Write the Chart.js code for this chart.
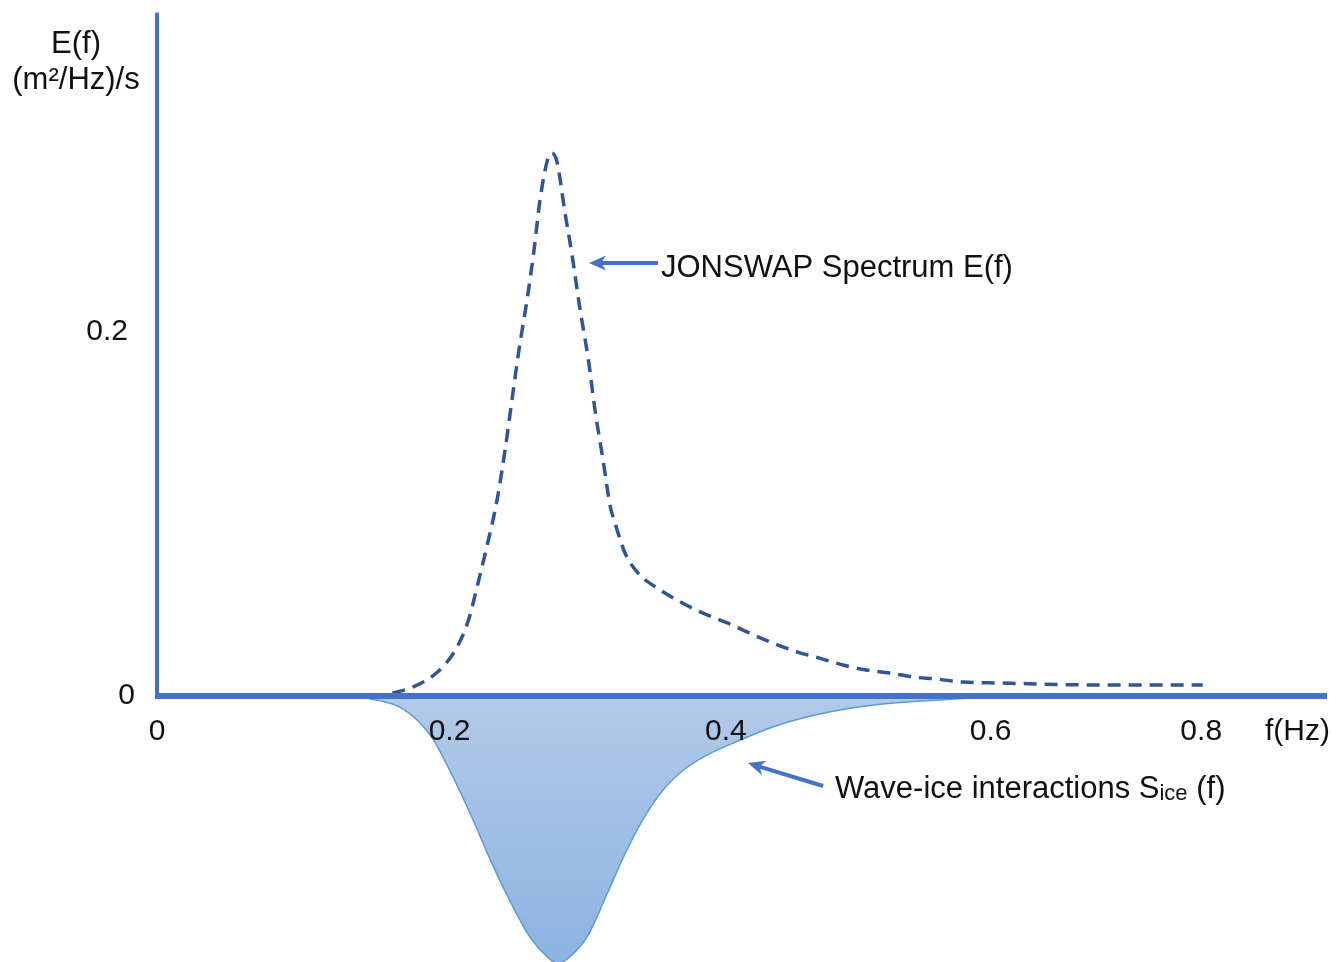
<!DOCTYPE html>
<html>
<head>
<meta charset="utf-8">
<title>JONSWAP spectrum and wave-ice interactions</title>
<script src="https://cdn.jsdelivr.net/npm/chart.js@4.4.1/dist/chart.umd.min.js"></script>
<style>
  html, body { margin: 0; padding: 0; background: #ffffff; }
  #wrap { width: 1341px; height: 962px; }
</style>
</head>
<body>
<div id="wrap"><canvas id="chart" width="1341" height="962"></canvas></div>
<script>
// JONSWAP spectrum E(f), (m^2/Hz)/s
const jonswapF = [0.161, 0.175, 0.191, 0.204, 0.213, 0.2195, 0.225, 0.2325, 0.238, 0.2427, 0.2475, 0.253, 0.2578, 0.2619, 0.2674, 0.270, 0.2735, 0.279, 0.284, 0.289, 0.295, 0.2995, 0.305, 0.310, 0.313, 0.320, 0.329, 0.344, 0.358, 0.373, 0.390, 0.405, 0.421, 0.438, 0.453, 0.469, 0.485, 0.501, 0.517, 0.533, 0.551, 0.576, 0.645, 0.715];
const jonswapE = [0.001, 0.0044, 0.0121, 0.0247, 0.0412, 0.0615, 0.0797, 0.1071, 0.1346, 0.1621, 0.1896, 0.2170, 0.2445, 0.2720, 0.2951, 0.2978, 0.2929, 0.2648, 0.2407, 0.2132, 0.1840, 0.1566, 0.1291, 0.1033, 0.0950, 0.0780, 0.0670, 0.0577, 0.0511, 0.0451, 0.0396, 0.0341, 0.0286, 0.0236, 0.0203, 0.0165, 0.0137, 0.0121, 0.0099, 0.0088, 0.0071, 0.0066, 0.0055, 0.0055];

// Wave-ice interaction source term S_ice(f)
const iceF = [0.140, 0.1436, 0.156, 0.166, 0.180, 0.189, 0.200, 0.214, 0.228, 0.241, 0.255, 0.267, 0.274, 0.282, 0.294, 0.308, 0.319, 0.332, 0.346, 0.360, 0.376, 0.399, 0.421, 0.444, 0.467, 0.490, 0.513, 0.535, 0.558, 0.581, 0.645, 0.713, 0.800];
const iceS = [0, -0.0016, -0.0038, -0.0066, -0.0154, -0.0247, -0.0412, -0.0648, -0.0907, -0.1126, -0.1330, -0.1440, -0.1475, -0.1440, -0.1330, -0.1088, -0.0890, -0.0687, -0.0522, -0.0412, -0.0330, -0.0247, -0.0176, -0.0121, -0.0082, -0.0055, -0.0038, -0.0027, -0.0016, -0.0014, -0.0008, -0.0005, -0.0003];

// Axis tick labels and where they sit along each axis
const xTickLabels = ['0', '0.2', '0.4', '0.6', '0.8'];
const xTickAt = [0, 0.2, 0.389, 0.570, 0.714];
const yTickLabels = ['0', '0.2'];
const yTickAt = [0, 0.2];

const FONT = '"Liberation Sans", Arial, Helvetica, sans-serif';
const AXIS_BLUE = '#4472C4';

function toPoints(xs, ys) {
  return xs.map((x, i) => ({ x: x, y: ys[i] }));
}

function drawArrow(ctx, x1, y1, x2, y2) {
  // tail (x1,y1) -> tip (x2,y2)
  const ang = Math.atan2(y2 - y1, x2 - x1);
  const headLen = 17, headHalf = 7.5, notch = 5;
  const bx = x2 - Math.cos(ang) * headLen;
  const by = y2 - Math.sin(ang) * headLen;
  ctx.save();
  ctx.strokeStyle = AXIS_BLUE;
  ctx.fillStyle = AXIS_BLUE;
  ctx.lineWidth = 4;
  ctx.beginPath();
  ctx.moveTo(x1, y1);
  ctx.lineTo(bx + Math.cos(ang) * notch, by + Math.sin(ang) * notch);
  ctx.stroke();
  ctx.beginPath();
  ctx.moveTo(x2, y2);
  ctx.lineTo(bx - Math.sin(ang) * headHalf, by + Math.cos(ang) * headHalf);
  ctx.lineTo(bx + Math.cos(ang) * notch, by + Math.sin(ang) * notch);
  ctx.lineTo(bx + Math.sin(ang) * headHalf, by - Math.cos(ang) * headHalf);
  ctx.closePath();
  ctx.fill();
  ctx.restore();
}

const diagramPlugin = {
  id: 'diagram',
  afterDatasetsDraw(chart) {
    const ctx = chart.ctx;
    const xs = chart.scales.x, ys = chart.scales.y;
    const x0 = xs.getPixelForValue(0);
    const y0 = ys.getPixelForValue(0);

    // axes
    ctx.save();
    ctx.strokeStyle = AXIS_BLUE;
    ctx.lineWidth = 4;
    ctx.lineCap = 'butt';
    ctx.beginPath();
    ctx.moveTo(x0, ys.getPixelForValue(0.375));
    ctx.lineTo(x0, y0 + 2);
    ctx.lineTo(xs.getPixelForValue(0.8), y0 + 2);
    ctx.stroke();
    ctx.beginPath();
    ctx.moveTo(x0 - 2, y0);
    ctx.lineTo(xs.getPixelForValue(0.8), y0);
    ctx.stroke();
    ctx.restore();

    ctx.save();
    ctx.fillStyle = '#111111';
    ctx.font = '30px ' + FONT;
    ctx.textBaseline = 'middle';

    // x tick labels
    ctx.textAlign = 'center';
    xTickAt.forEach((v, i) => {
      ctx.fillText(xTickLabels[i], xs.getPixelForValue(v), y0 + 37);
    });
    ctx.textAlign = 'right';
    ctx.fillText('f(Hz)', xs.getPixelForValue(0.8) + 3, y0 + 37);

    // y tick labels
    yTickAt.forEach((v, i) => {
      ctx.fillText(yTickLabels[i], x0 - (v === 0 ? 22 : 29), ys.getPixelForValue(v) + 1);
    });

    // y axis title
    ctx.textAlign = 'center';
    ctx.font = '31px ' + FONT;
    ctx.fillText('E(f)', x0 - 81, 44);
    ctx.fillText('(m\u00B2/Hz)/s', x0 - 81, 80);

    // JONSWAP annotation
    drawArrow(ctx, xs.getPixelForValue(0.3426), ys.getPixelForValue(0.2374),
                   xs.getPixelForValue(0.2954), ys.getPixelForValue(0.2374));
    ctx.textAlign = 'left';
    ctx.textBaseline = 'alphabetic';
    ctx.font = '31px ' + FONT;
    ctx.fillText('JONSWAP Spectrum E(f)', xs.getPixelForValue(0.3446), ys.getPixelForValue(0.2357) + 11);

    // S_ice annotation
    drawArrow(ctx, xs.getPixelForValue(0.4555), ys.getPixelForValue(-0.0500),
                   xs.getPixelForValue(0.4041), ys.getPixelForValue(-0.0374));
    let tx = xs.getPixelForValue(0.4636);
    const ty = ys.getPixelForValue(-0.0505) + 11;
    const mainPart = 'Wave-ice interactions S';
    ctx.fillText(mainPart, tx, ty);
    tx += ctx.measureText(mainPart).width;
    ctx.font = '22px ' + FONT;
    ctx.fillText('ice', tx, ty + 2);
    tx += ctx.measureText('ice').width;
    ctx.font = '31px ' + FONT;
    ctx.fillText(' (f)', tx, ty);
    ctx.restore();
  }
};

new Chart(document.getElementById('chart'), {
  type: 'line',
  data: {
    datasets: [
      {
        label: 'Wave-ice interactions S_ice(f)',
        data: toPoints(iceF, iceS),
        borderColor: '#5B9BD5',
        borderWidth: 1.5,
        pointRadius: 0,
        cubicInterpolationMode: 'monotone',
        fill: 'origin',
        backgroundColor(context) {
          const chart = context.chart;
          const area = chart.chartArea;
          if (!area) return 'rgba(160,190,230,1)';
          const top = chart.scales.y.getPixelForValue(0);
          const g = chart.ctx.createLinearGradient(0, top, 0, area.bottom);
          g.addColorStop(0, '#B3CAE9');
          g.addColorStop(1, '#8DB3E2');
          return g;
        },
        order: 2
      },
      {
        label: 'JONSWAP Spectrum E(f)',
        data: toPoints(jonswapF, jonswapE),
        borderColor: '#2F5597',
        borderWidth: 3.5,
        borderDash: [13, 8],
        pointRadius: 0,
        cubicInterpolationMode: 'monotone',
        fill: false,
        order: 1
      }
    ]
  },
  options: {
    responsive: false,
    animation: false,
    layout: { padding: { left: 157, right: 14, top: 0, bottom: 0 } },
    plugins: { legend: { display: false }, tooltip: { enabled: false } },
    scales: {
      x: { type: 'linear', min: 0, max: 0.8, display: false },
      y: { type: 'linear', min: -0.1467, max: 0.3819, display: false }
    }
  },
  plugins: [diagramPlugin]
});
</script>
</body>
</html>
